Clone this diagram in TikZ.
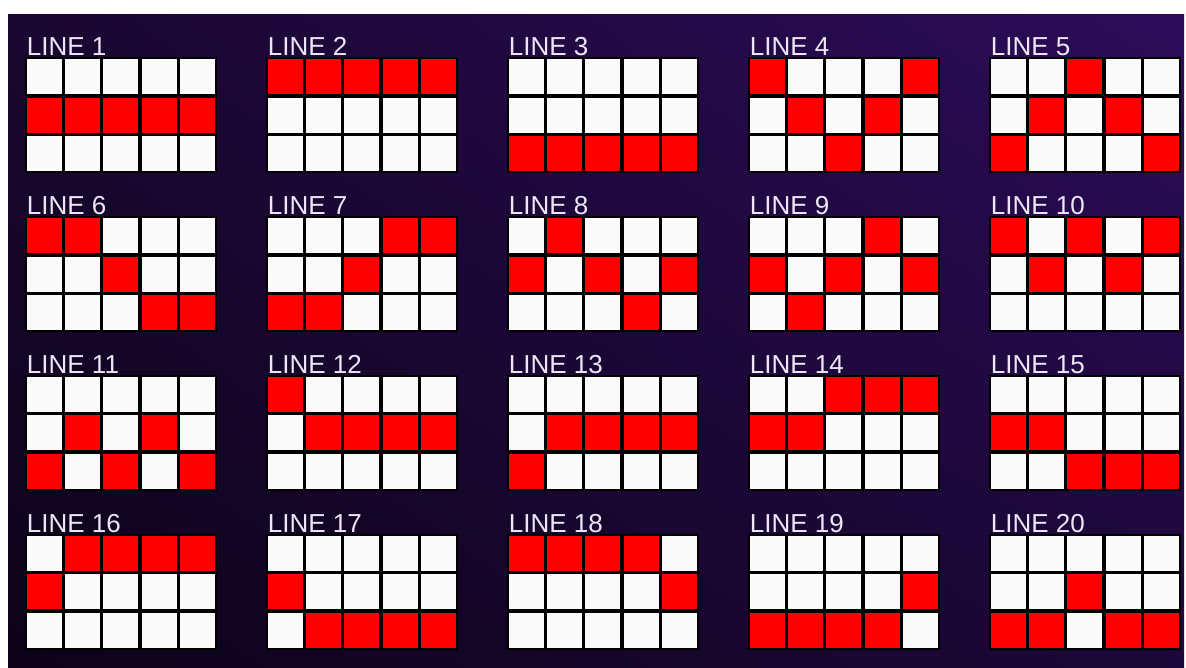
\documentclass[tikz,border=0pt]{standalone}
\usepackage{fontspec}
\setmainfont{Liberation Sans}
\usetikzlibrary{shadings}
\definecolor{cellred}{RGB}{255,0,0}
\definecolor{cellwhite}{RGB}{250,250,250}
\definecolor{labeltext}{RGB}{236,230,246}
\definecolor{bgUL}{RGB}{26,7,48}
\definecolor{bgUR}{RGB}{44,12,90}
\definecolor{bgLL}{RGB}{12,3,24}
\definecolor{bgLR}{RGB}{28,8,56}
\tikzset{
  linelabel/.style={text=labeltext, inner sep=0pt, anchor=base west,
    font=\fontsize{19.5pt}{20pt}\selectfont},
  gridback/.style={fill=black},
}
\begin{document}
\begin{tikzpicture}[x=0.75pt,y=-0.75pt]
\useasboundingbox (0,0) rectangle (1186,668);
\fill[white] (0,0) rectangle (1186,668);
\shade[upper left=bgUL, upper right=bgUR, lower left=bgLL, lower right=bgLR] (8,14) rectangle (1184,668);
\foreach \n/\ra/\rb/\rc/\rd/\re in {
  1/1/1/1/1/1, 2/0/0/0/0/0, 3/2/2/2/2/2, 4/0/1/2/1/0, 5/2/1/0/1/2,
  6/0/0/1/2/2, 7/2/2/1/0/0, 8/1/0/1/2/1, 9/1/2/1/0/1, 10/0/1/0/1/0,
  11/2/1/2/1/2, 12/0/1/1/1/1, 13/2/1/1/1/1, 14/1/1/0/0/0, 15/1/1/2/2/2,
  16/1/0/0/0/0, 17/1/2/2/2/2, 18/0/0/0/0/1, 19/2/2/2/2/1, 20/2/2/1/2/2}{
  \pgfmathsetmacro\gx{26.7+241*mod(\n-1,5)}
  \pgfmathsetmacro\gy{59.3+158.9*int((\n-1)/5)}
  \node[linelabel] (lbl\n) at (\gx,\gy-4) {LINE \n};
  \fill[gridback] (\gx-2,\gy-2) rectangle +(192.2,115.6);
  \foreach \k/\r in {0/\ra,1/\rb,2/\rc,3/\rd,4/\re}{
    \foreach \j in {0,1,2}{
      \ifnum\j=\r\relax \def\cc{cellred}\else \def\cc{cellwhite}\fi
      \fill[\cc] (\gx+38.3*\k,\gy+38.3*\j) rectangle +(35,35);
    }
  }
}
\end{tikzpicture}
\end{document}
